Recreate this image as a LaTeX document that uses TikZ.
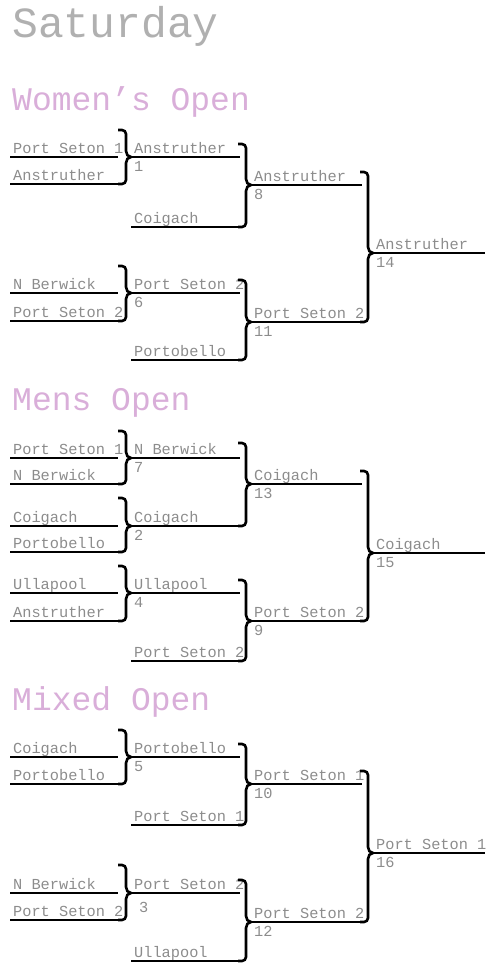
\documentclass[tikz,border=0pt]{standalone}
\usepackage{fontspec}
\setmainfont{Liberation Mono}
\usepackage{xcolor}
\usetikzlibrary{calc}

\definecolor{teamgrey}{HTML}{8C8C8C}
\definecolor{daygrey}{HTML}{B0B0B0}
\definecolor{eventpink}{HTML}{D9AED9}

\newcommand{\teamfont}{\fontsize{15.3pt}{18pt}\selectfont}
\newcommand{\eventfont}{\fontsize{33pt}{36pt}\selectfont}
\newcommand{\dayfont}{\fontsize{43pt}{46pt}\selectfont}

% bracket: top entry, bottom entry, winner entry; optional rise above the top line
\newcommand{\brk}[4][27]{%
    \draw[brace] let \p1=(#2.south west), \p2=(#3.south west), \p3=(#4.south west) in
        (\x3-13pt,\y1+#1pt) -- (\x3-9pt,\y1+#1pt) to[out=0,in=90] (\x3-5pt,\y1+#1pt-4pt)
        -- (\x3-5pt,\y3+6pt) to[out=-90,in=180] (\x3,\y3)
        to[out=180,in=90] (\x3-5pt,\y3-6pt) -- (\x3-5pt,\y2+4pt)
        to[out=-90,in=0] (\x3-9pt,\y2) -- (\x3-13pt,\y2);}

\begin{document}
\begin{tikzpicture}[
        x=1pt, y=-1pt,
        entry/.style={
            anchor=south west, inner xsep=3pt, inner ysep=1pt,
            text height=10pt, text depth=2pt,
            font=\teamfont, text=teamgrey
        },
        num/.style={anchor=north west, inner xsep=3pt, inner ysep=4.5pt,
            font=\teamfont, text=teamgrey},
        bar/.style={line width=2.6pt},
        brace/.style={line width=2.6pt},
        event/.style={anchor=base west, inner sep=0pt, font=\eventfont, text=eventpink}
    ]
    \useasboundingbox (0,0) rectangle (500,980);

    \node[anchor=base west, inner sep=0pt, font=\dayfont, text=daygrey] (day) at (12,37) {Saturday};

    % Women's Open
    \node[event] (women) at (12,110) {Women's Open};
    \node[entry] (w-a) at (10,157) {Port Seton 1};
    \node[entry] (w-b) at (10,184) {Anstruther};
    \node[entry] (w1)  at (131,157) {Anstruther};
    \node[entry] (w-c) at (131,227) {Coigach};
    \node[entry] (w8)  at (251,185) {Anstruther};
    \node[entry] (w-d) at (10,293) {N Berwick};
    \node[entry] (w-e) at (10,321) {Port Seton 2};
    \node[entry] (w6)  at (131,293) {Port Seton 2};
    \node[entry] (w-f) at (131,360) {Portobello};
    \node[entry] (w11) at (251,322) {Port Seton 2};
    \node[entry] (w14) at (373,253) {Anstruther};

    % Mens Open
    \node[event] (mens) at (12,410) {Mens Open};
    \node[entry] (m-a) at (10,458) {Port Seton 1};
    \node[entry] (m-b) at (10,484) {N Berwick};
    \node[entry] (m7)  at (131,458) {N Berwick};
    \node[entry] (m-c) at (10,526) {Coigach};
    \node[entry] (m-d) at (10,552) {Portobello};
    \node[entry] (m2)  at (131,526) {Coigach};
    \node[entry] (m13) at (251,484) {Coigach};
    \node[entry] (m-e) at (10,593) {Ullapool};
    \node[entry] (m-f) at (10,621) {Anstruther};
    \node[entry] (m4)  at (131,593) {Ullapool};
    \node[entry] (m-g) at (131,661) {Port Seton 2};
    \node[entry] (m9)  at (251,621) {Port Seton 2};
    \node[entry] (m15) at (373,553) {Coigach};

    % Mixed Open
    \node[event] (mixed) at (12,710) {Mixed Open};
    \node[entry] (x-a) at (10,757) {Coigach};
    \node[entry] (x-b) at (10,784) {Portobello};
    \node[entry] (x5)  at (131,757) {Portobello};
    \node[entry] (x-c) at (131,825) {Port Seton 1};
    \node[entry] (x10) at (251,784) {Port Seton 1};
    \node[entry] (x-d) at (10,893) {N Berwick};
    \node[entry] (x-e) at (10,920) {Port Seton 2};
    \node[entry] (x3)  at (131,893) {Port Seton 2};
    \node[entry] (x-f) at (131,961) {Ullapool};
    \node[entry] (x12) at (251,922) {Port Seton 2};
    \node[entry] (x16) at (373,853) {Port Seton 1};

    % Lines under the names, one length per round
    \foreach \n in {w-a,w-b,w-d,w-e,m-a,m-b,m-c,m-d,m-e,m-f,x-a,x-b,x-d,x-e}
        \draw[bar] (\n.south west) -- ++(108,0);
    \foreach \n in {w1,w-c,w6,w-f,m7,m2,m4,m-g,x5,x-c,x3,x-f}
        \draw[bar] (\n.south west) -- ++(109,0);
    \foreach \n in {w8,w11,m13,m9,x10,x12}
        \draw[bar] (\n.south west) -- ++(111,0);
    \foreach \n in {w14,m15,x16}
        \draw[bar] (\n.south west) -- ++(112,0);

    % Brackets
    \brk{w-a}{w-b}{w1}
    \brk[13]{w1}{w-c}{w8}
    \brk{w-d}{w-e}{w6}
    \brk[13]{w6}{w-f}{w11}
    \brk[13]{w8}{w11}{w14}

    \brk{m-a}{m-b}{m7}
    \brk[28]{m-c}{m-d}{m2}
    \brk[15]{m7}{m2}{m13}
    \brk{m-e}{m-f}{m4}
    \brk[13]{m4}{m-g}{m9}
    \brk[13]{m13}{m9}{m15}

    \brk{x-a}{x-b}{x5}
    \brk[13]{x5}{x-c}{x10}
    \brk[28]{x-d}{x-e}{x3}
    \brk[13]{x3}{x-f}{x12}
    \brk[13]{x10}{x12}{x16}

    % Match numbers
    \node[num] (n1)  at (w1.south west)  {1};
    \node[num] (n8)  at (w8.south west)  {8};
    \node[num] (n6)  at (w6.south west)  {6};
    \node[num] (n11) at (w11.south west) {11};
    \node[num] (n14) at (w14.south west) {14};
    \node[num] (n7)  at (m7.south west)  {7};
    \node[num] (n2)  at (m2.south west)  {2};
    \node[num] (n13) at (m13.south west) {13};
    \node[num] (n4)  at (m4.south west)  {4};
    \node[num] (n9)  at (m9.south west)  {9};
    \node[num] (n15) at (m15.south west) {15};
    \node[num] (n5)  at (x5.south west)  {5};
    \node[num] (n10) at (x10.south west) {10};
    \node[num, xshift=5pt, yshift=-5pt] (n3) at (x3.south west) {3};
    \node[num] (n12) at (x12.south west) {12};
    \node[num] (n16) at (x16.south west) {16};

\end{tikzpicture}
\end{document}
